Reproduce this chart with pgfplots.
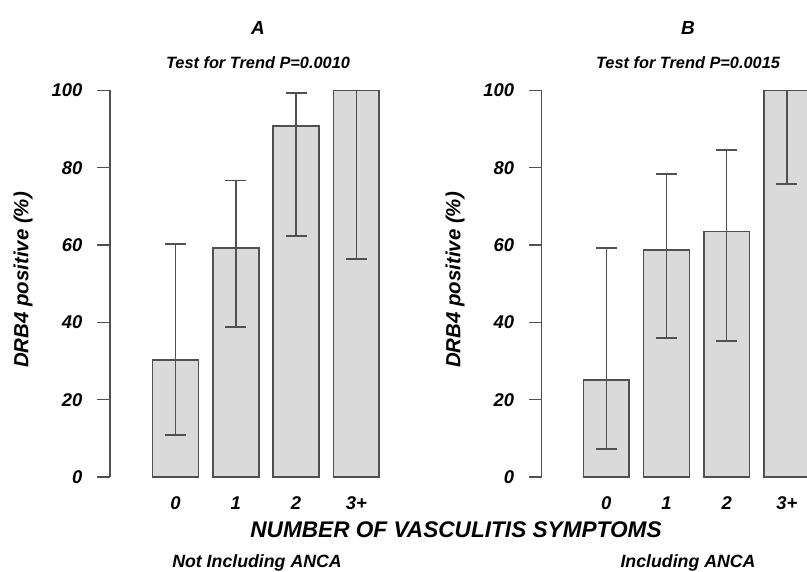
\documentclass[border=0pt]{standalone}
\usepackage{fontspec}
\setmainfont{Liberation Sans}
\usepackage{pgfplots}
\usepackage{pgfplotstable}
\pgfplotsset{compat=1.18}
\definecolor{barfill}{HTML}{DADADA}
\definecolor{edge}{HTML}{505050}

\pgfplotstableread{
x y ep em
0 30.2 30.0 19.3
1 59.2 17.5 20.4
2 90.8 8.6 28.5
3 100 0 43.5
}\dataA
\pgfplotstableread{
x y ep em
0 25.1 34.1 17.9
1 58.7 19.7 22.8
2 63.5 21.1 28.2
3 100 0 24.3
}\dataB

\pgfplotsset{
  panel/.style={
    scale only axis,
    anchor=south west,
    height=386.5bp,
    ymin=0, ymax=100,
    enlargelimits=false,
    clip=false,
    axis x line*=bottom,
    axis y line*=left,
    x axis line style={draw=none},
    y axis line style={line width=1.3bp, color=edge},
    xtick={0,1,2,3},
    xticklabels={0,1,2,3+},
    xtick style={draw=none},
    ytick={0,20,40,60,80,100},
    ytick style={line width=1.3bp, color=edge},
    tick align=outside,
    major tick length=13bp,
    /pgf/number format/assume math mode=true,
    ticklabel style={font=\fontsize{18.5}{18.5}\selectfont\bfseries\itshape},
    xticklabel style={anchor=base, yshift=-20bp},
    yticklabel style={xshift=-11bp},
  },
  mybars/.style={
    ybar, bar width=0.76, fill=barfill, draw=edge, line width=1.7bp,
    error bars/.cd, y dir=both, y explicit,
    error bar style={line width=1.5bp, color=edge},
    error mark options={rotate=90, line width=1.9bp, mark size=10.5bp, color=edge},
  },
}

\begin{document}
\begin{tikzpicture}[x=1bp,y=1bp]
\useasboundingbox (0,0) rectangle (807,572);

\begin{axis}[panel, at={(110bp,95bp)}, xmin=-1.086, xmax=3.6, width=282.6bp]
\addplot[mybars] table[x=x, y=y, y error plus=ep, y error minus=em] {\dataA};
\end{axis}

\begin{axis}[panel, at={(541.7bp,95bp)}, xmin=-1.073, xmax=3.6, width=281.3bp]
\addplot[mybars] table[x=x, y=y, y error plus=ep, y error minus=em] {\dataB};
\end{axis}

\node[font=\fontsize{19}{19}\selectfont\bfseries\itshape] at (258,544) {A};
\node[font=\fontsize{16.4}{16.4}\selectfont\bfseries\itshape] at (258,509) {Test for Trend P=0.0010};
\node[font=\fontsize{19}{19}\selectfont\bfseries\itshape] at (688,544) {B};
\node[font=\fontsize{16.4}{16.4}\selectfont\bfseries\itshape] at (688,509) {Test for Trend P=0.0015};
\node[font=\fontsize{20.5}{20.5}\selectfont\bfseries\itshape, rotate=90] at (23,292) {DRB4 positive (\%)};
\node[font=\fontsize{20.5}{20.5}\selectfont\bfseries\itshape, rotate=90] at (455,292) {DRB4 positive (\%)};
\node[font=\fontsize{22.7}{22.7}\selectfont\bfseries\itshape] at (456,42) {NUMBER OF VASCULITIS SYMPTOMS};
\node[font=\fontsize{17.8}{17.8}\selectfont\bfseries\itshape] at (257,9) {Not Including ANCA};
\node[font=\fontsize{17.8}{17.8}\selectfont\bfseries\itshape] at (688,9) {Including ANCA};
\end{tikzpicture}
\end{document}
